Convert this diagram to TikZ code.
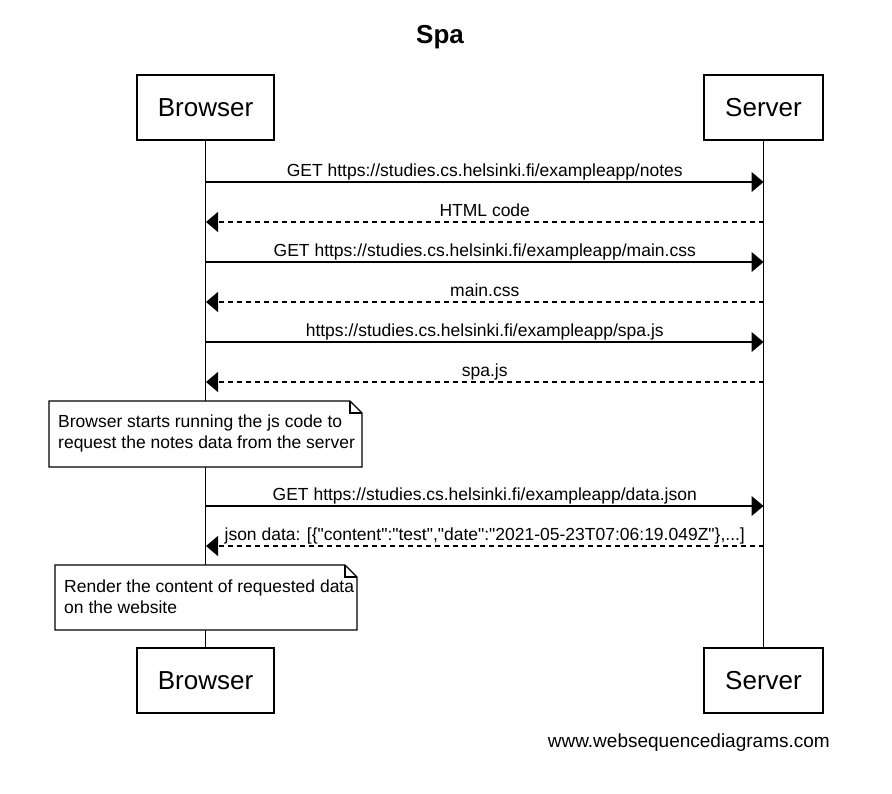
\documentclass[tikz,border=0pt]{standalone}
\usepackage{fontspec}
\setmainfont{Liberation Sans}[Ligatures=TeXOff]
\usetikzlibrary{arrows.meta}
\tikzset{
  actor/.style={draw, line width=1.2pt, minimum height=65pt, inner sep=0pt, font=\fontsize{26}{30}\selectfont},
  life/.style={line width=1.2pt},
  msg/.style={line width=1.2pt, -{Triangle[length=12pt, width=20pt]}},
  reply/.style={msg, dash pattern=on 5pt off 4pt},
  lbl/.style={pos=0.5, anchor=base, yshift=6pt, inner sep=0pt, font=\fontsize{17.5}{21}\selectfont},
  notetext/.style={anchor=west, align=left, inner sep=0pt, font=\fontsize{17.5}{21}\selectfont},
  fold/.style={line width=1.2pt, fill=white}
}
\begin{document}
\begin{tikzpicture}[x=1pt, y=-1pt]
    \useasboundingbox (0, 0) rectangle (892, 793);

    \node [anchor=base, font=\fontsize{26}{30}\selectfont\bfseries] (title) at (440, 43) {Spa};

    \node [actor, minimum width=137pt] (browserTop) at (205.5, 107.5) {Browser};
    \node [actor, minimum width=119pt] (serverTop) at (763.5, 107.5) {Server};
    \node [actor, minimum width=137pt] (browserBot) at (205.5, 680.5) {Browser};
    \node [actor, minimum width=119pt] (serverBot) at (763.5, 680.5) {Server};

    \draw [life] (browserTop.south) -- (browserBot.north);
    \draw [life] (serverTop.south) -- (serverBot.north);

    \foreach \y [count=\i] in {182, 222, 262, 302, 342, 382, 506, 546} {
      \coordinate (b\i) at (206, \y);
      \coordinate (s\i) at (763.5, \y);
    }

    \draw [msg] (b1) -- (s1) node [lbl] (m1) {GET https://studies.cs.helsinki.fi/exampleapp/notes};
    \draw [reply] (s2) -- (b2) node [lbl] (m2) {HTML code};
    \draw [msg] (b3) -- (s3) node [lbl] (m3) {GET https://studies.cs.helsinki.fi/exampleapp/main.css};
    \draw [reply] (s4) -- (b4) node [lbl] (m4) {main.css};
    \draw [msg] (b5) -- (s5) node [lbl] (m5) {https://studies.cs.helsinki.fi/exampleapp/spa.js};
    \draw [reply] (s6) -- (b6) node [lbl] (m6) {spa.js};

    \draw [fold] (49, 401) -- (350, 401) -- (362, 413) -- (362, 467) -- (49, 467) -- cycle;
    \draw [life] (350, 401) |- (362, 413);
    \node [notetext] (note1) at (58, 433) {Browser starts running the js code to\\request the notes data from the server};

    \draw [msg] (b7) -- (s7) node [lbl] (m7) {GET https://studies.cs.helsinki.fi/exampleapp/data.json};
    \draw [reply] (s8) -- (b8) node [lbl] (m8) {json data: [\{"content":"test","date":"2021-05-23T07:06:19.049Z"\},...]};

    \draw [fold] (55, 565) -- (345, 565) -- (357, 577) -- (357, 630) -- (55, 630) -- cycle;
    \draw [life] (345, 565) |- (357, 577);
    \node [notetext] (note2) at (64, 597) {Render the content of requested data\\on the website};

    \node [anchor=base east, inner sep=0pt, font=\fontsize{19}{23}\selectfont] (footer) at (830, 747) {www.websequencediagrams.com};
\end{tikzpicture}
\end{document}
